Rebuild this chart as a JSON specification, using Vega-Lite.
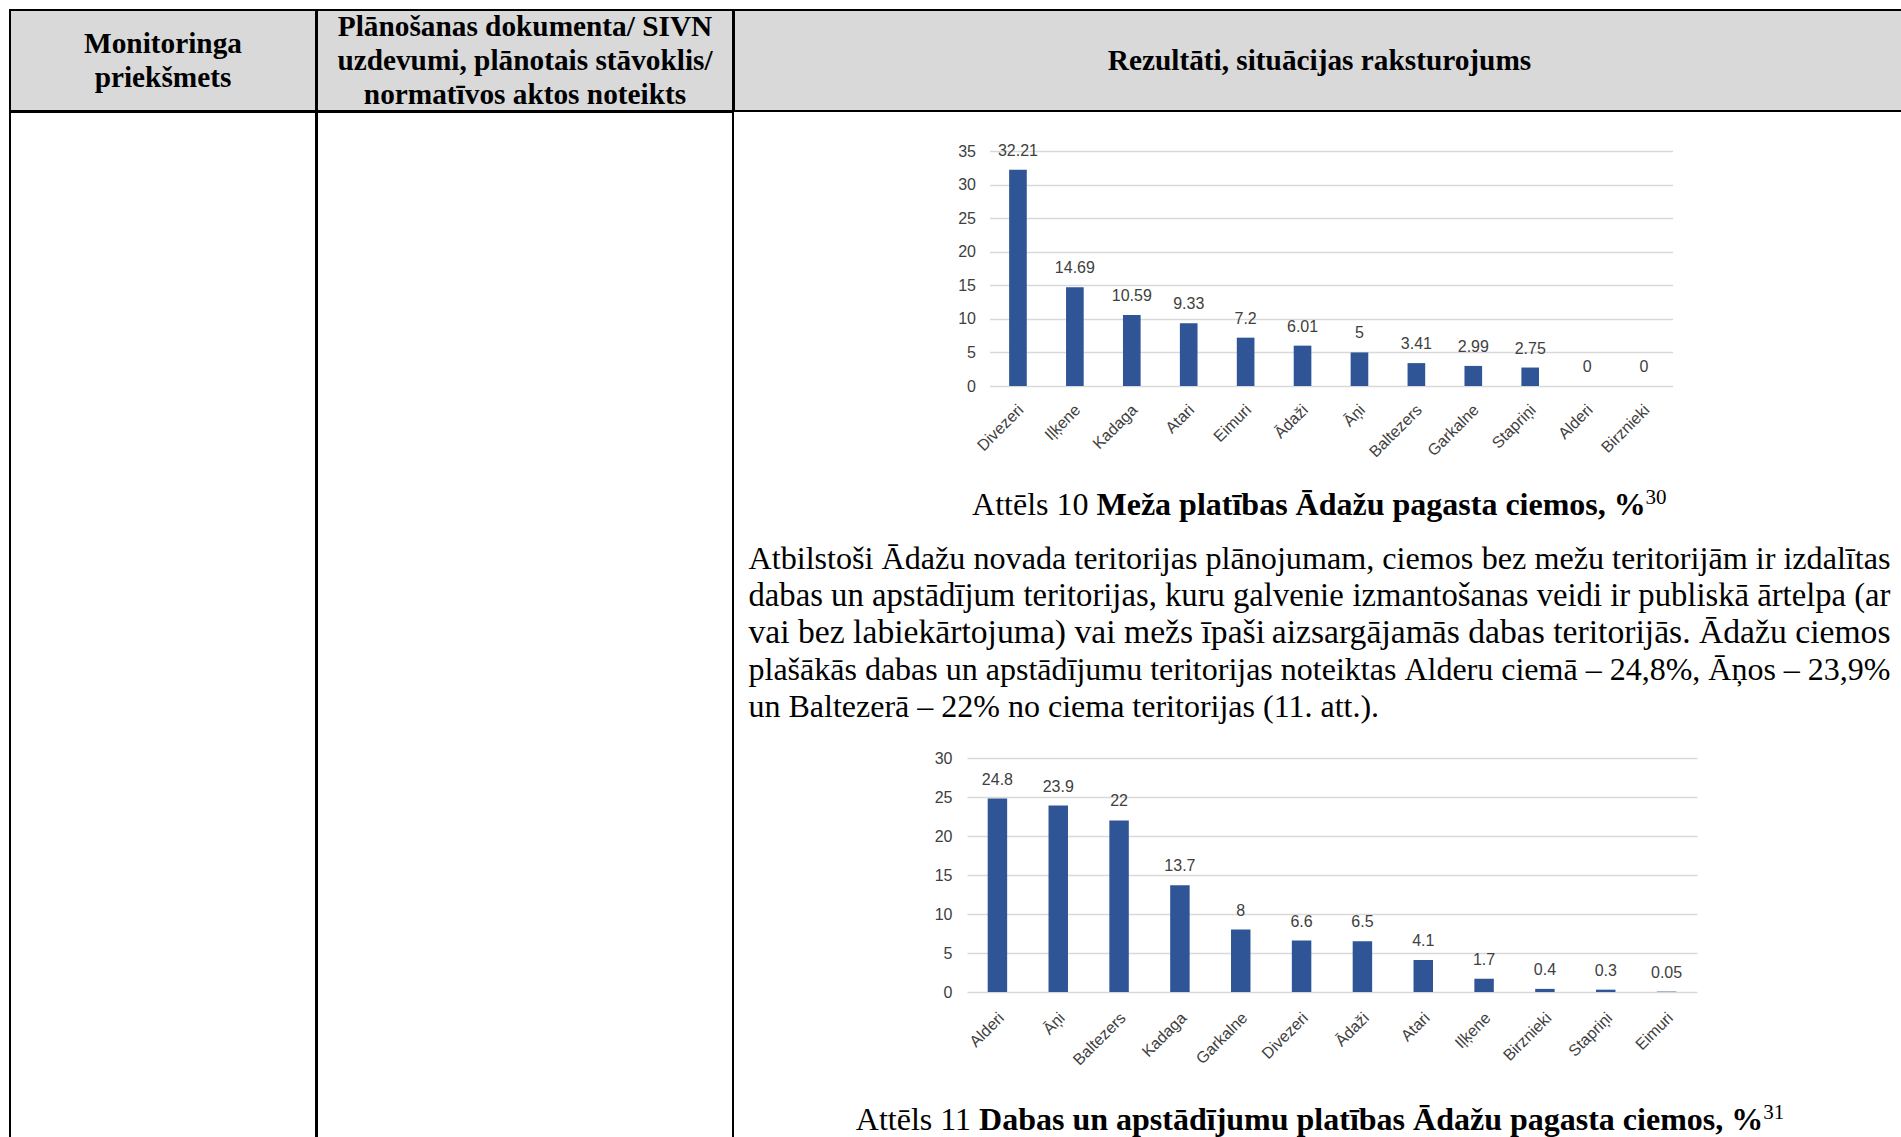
{
  "$schema": "https://vega.github.io/schema/vega-lite/v6.json",
  "padding": {"left": 9, "top": 9, "right": 0, "bottom": 0},
  "background": "white",
  "config": {"view": {"stroke": null}},
  "spacing": -2,
  "hconcat": [
    {
      "spacing": -2,
      "vconcat": [
        {
          "width": 306, "height": 101,
          "view": {"fill": "#d9d9d9", "stroke": "black", "strokeWidth": 2},
          "data": {"values": [{"h": "Monitoringa\npriekšmets"}]},
          "mark": {"type": "text", "font": "Liberation Serif", "fontSize": 29.3, "fontWeight": "bold", "lineBreak": "\n", "lineHeight": 34, "color": "black", "align": "center", "baseline": "middle", "dy": -17},
          "encoding": {"text": {"field": "h"}}
        },
        {
          "width": 306, "height": 1029,
          "view": {"stroke": "black", "strokeWidth": 2},
          "data": {"values": [{"t": ""}]},
          "mark": {"type": "text"},
          "encoding": {"text": {"field": "t"}}
        }
      ]
    },
    {
      "spacing": -2,
      "vconcat": [
        {
          "width": 416, "height": 101,
          "view": {"fill": "#d9d9d9", "stroke": "black", "strokeWidth": 2},
          "data": {"values": [{"h": "Plānošanas dokumenta/ SIVN\nuzdevumi, plānotais stāvoklis/\nnormatīvos aktos noteikts"}]},
          "mark": {"type": "text", "font": "Liberation Serif", "fontSize": 29.3, "fontWeight": "bold", "lineBreak": "\n", "lineHeight": 34, "color": "black", "align": "center", "baseline": "middle", "dy": -34},
          "encoding": {"text": {"field": "h"}}
        },
        {
          "width": 416, "height": 1029,
          "view": {"stroke": "black", "strokeWidth": 2},
          "data": {"values": [{"t": ""}]},
          "mark": {"type": "text"},
          "encoding": {"text": {"field": "t"}}
        }
      ]
    },
    {
      "spacing": 0,
      "bounds": "flush",
      "center": true,
      "vconcat": [
        {
          "width": 1171, "height": 101,
          "view": {"fill": "#d9d9d9", "stroke": "black", "strokeWidth": 2},
          "data": {"values": [{"h": "Rezultāti, situācijas raksturojums"}]},
          "mark": {"type": "text", "font": "Liberation Serif", "fontSize": 29.3, "fontWeight": "bold", "color": "black", "align": "center", "baseline": "middle"},
          "encoding": {"text": {"field": "h"}}
        },
        {
          "width": 1, "height": 40,
          "data": {"values": [{"t": ""}]},
          "mark": {"type": "text"},
          "encoding": {"text": {"field": "t"}}
        },
        {
          "width": 1171, "height": 235,
          "data": {"values": [
            {"ciems": "Divezeri", "procenti": 32.21},
            {"ciems": "Iļķene", "procenti": 14.69},
            {"ciems": "Kadaga", "procenti": 10.59},
            {"ciems": "Atari", "procenti": 9.33},
            {"ciems": "Eimuri", "procenti": 7.2},
            {"ciems": "Ādaži", "procenti": 6.01},
            {"ciems": "Āņi", "procenti": 5},
            {"ciems": "Baltezers", "procenti": 3.41},
            {"ciems": "Garkalne", "procenti": 2.99},
            {"ciems": "Stapriņi", "procenti": 2.75},
            {"ciems": "Alderi", "procenti": 0},
            {"ciems": "Birznieki", "procenti": 0}
          ]},
          "encoding": {
            "x": {
              "field": "ciems", "type": "nominal", "sort": null,
              "scale": {"range": [255.5, 938.5], "paddingInner": 0.69, "paddingOuter": 0.345},
              "axis": {"title": null, "labelAngle": -45, "labelAlign": "right", "labelBaseline": "middle", "labelPadding": 21, "labelOffset": 3, "labelFont": "Liberation Sans", "labelFontSize": 16, "labelColor": "#404040", "ticks": false, "tickSize": 0, "domain": false, "labelOverlap": false, "labelBound": false, "grid": false}
            },
            "y": {
              "field": "procenti", "type": "quantitative",
              "scale": {"domain": [0, 35], "nice": false},
              "axis": {"title": null, "offset": -255.5, "values": [0, 5, 10, 15, 20, 25, 30, 35], "grid": true, "gridColor": "#d9d9d9", "gridWidth": 1.5, "domain": false, "ticks": false, "tickSize": 0, "labelPadding": 14, "labelFont": "Liberation Sans", "labelFontSize": 16, "labelColor": "#404040", "labelFlush": false}
            }
          },
          "layer": [
            {"mark": {"type": "bar", "color": "#2f5597"}},
            {
              "mark": {"type": "text", "font": "Liberation Sans", "fontSize": 16, "color": "#404040", "baseline": "middle", "align": "center", "dy": -19},
              "encoding": {"text": {"field": "procenti", "type": "quantitative", "format": "~g"}}
            }
          ]
        },
        {
          "width": 1, "height": 118,
          "data": {"values": [{"t": ""}]},
          "mark": {"type": "text"},
          "encoding": {"text": {"field": "t"}}
        },
        {
          "width": 1142, "height": 2,
          "layer": [
            {
              "data": {"values": [{"text": "Attēls 10"}]},
              "mark": {"type": "text", "font": "Liberation Serif", "fontSize": 32, "color": "black", "align": "right", "baseline": "middle", "dx": -231},
              "encoding": {"text": {"field": "text"}}
            },
            {
              "data": {"values": [{"text": "Meža platības Ādažu pagasta ciemos, %"}]},
              "mark": {"type": "text", "font": "Liberation Serif", "fontSize": 32, "fontWeight": "bold", "color": "black", "align": "left", "baseline": "middle", "dx": -223},
              "encoding": {"text": {"field": "text"}}
            },
            {
              "data": {"values": [{"text": "30"}]},
              "mark": {"type": "text", "font": "Liberation Serif", "fontSize": 21, "color": "black", "align": "left", "baseline": "middle", "dx": 326, "dy": -7},
              "encoding": {"text": {"field": "text"}}
            }
          ]
        },
        {
          "width": 1, "height": 53,
          "data": {"values": [{"t": ""}]},
          "mark": {"type": "text"},
          "encoding": {"text": {"field": "t"}}
        },
        {
          "width": 1142, "height": 148,
          "encoding": {"y": {"field": "line", "type": "ordinal", "scale": {"type": "point", "padding": 0}, "axis": null}},
          "layer": [
            {
              "data": {"values": [{"line": 1, "text": "Atbilstoši Ādažu novada teritorijas plānojumam, ciemos"}]},
              "mark": {"type": "text", "font": "Liberation Serif", "fontSize": 32.15, "color": "black", "align": "left", "baseline": "middle"},
              "encoding": {"x": {"value": 0}, "text": {"field": "text"}}
            },
            {
              "data": {"values": [{"line": 1, "text": "bez mežu teritorijām ir izdalītas"}]},
              "mark": {"type": "text", "font": "Liberation Serif", "fontSize": 32.15, "color": "black", "align": "right", "baseline": "middle"},
              "encoding": {"x": {"value": "width"}, "text": {"field": "text"}}
            },
            {
              "data": {"values": [
                {"line": 4, "text": "plašākās dabas un apstādījumu teritorijas noteiktas"},
                {"line": 5, "text": "un Baltezerā – 22% no ciema teritorijas (11. att.)."}
              ]},
              "mark": {"type": "text", "font": "Liberation Serif", "fontSize": 32, "color": "black", "align": "left", "baseline": "middle"},
              "encoding": {"x": {"value": 0}, "text": {"field": "text"}}
            },
            {
              "data": {"values": [{"line": 4, "text": "Alderu ciemā – 24,8%, Āņos – 23,9%"}]},
              "mark": {"type": "text", "font": "Liberation Serif", "fontSize": 32, "color": "black", "align": "right", "baseline": "middle"},
              "encoding": {"x": {"value": "width"}, "text": {"field": "text"}}
            },
            {
              "data": {"values": [{"line": 2, "text": "dabas un apstādījum teritorijas, kuru galvenie"}]},
              "mark": {"type": "text", "font": "Liberation Serif", "fontSize": 32.69, "color": "black", "align": "left", "baseline": "middle"},
              "encoding": {"x": {"value": 0}, "text": {"field": "text"}}
            },
            {
              "data": {"values": [{"line": 2, "text": "izmantošanas veidi ir publiskā ārtelpa (ar"}]},
              "mark": {"type": "text", "font": "Liberation Serif", "fontSize": 32.69, "color": "black", "align": "right", "baseline": "middle"},
              "encoding": {"x": {"value": "width"}, "text": {"field": "text"}}
            },
            {
              "data": {"values": [{"line": 3, "text": "vai bez labiekārtojuma) vai mežs īpaši"}]},
              "mark": {"type": "text", "font": "Liberation Serif", "fontSize": 33.65, "color": "black", "align": "left", "baseline": "middle"},
              "encoding": {"x": {"value": 0}, "text": {"field": "text"}}
            },
            {
              "data": {"values": [{"line": 3, "text": "aizsargājamās dabas teritorijās. Ādažu ciemos"}]},
              "mark": {"type": "text", "font": "Liberation Serif", "fontSize": 33.65, "color": "black", "align": "right", "baseline": "middle"},
              "encoding": {"x": {"value": "width"}, "text": {"field": "text"}}
            }
          ]
        },
        {
          "width": 1, "height": 51,
          "data": {"values": [{"t": ""}]},
          "mark": {"type": "text"},
          "encoding": {"text": {"field": "t"}}
        },
        {
          "width": 1171, "height": 234,
          "data": {"values": [
            {"ciems": "Alderi", "procenti": 24.8},
            {"ciems": "Āņi", "procenti": 23.9},
            {"ciems": "Baltezers", "procenti": 22},
            {"ciems": "Kadaga", "procenti": 13.7},
            {"ciems": "Garkalne", "procenti": 8},
            {"ciems": "Divezeri", "procenti": 6.6},
            {"ciems": "Ādaži", "procenti": 6.5},
            {"ciems": "Atari", "procenti": 4.1},
            {"ciems": "Iļķene", "procenti": 1.7},
            {"ciems": "Birznieki", "procenti": 0.4},
            {"ciems": "Stapriņi", "procenti": 0.3},
            {"ciems": "Eimuri", "procenti": 0.05}
          ]},
          "encoding": {
            "x": {
              "field": "ciems", "type": "nominal", "sort": null,
              "scale": {"range": [233, 963], "paddingInner": 0.68, "paddingOuter": 0.34},
              "axis": {"title": null, "labelAngle": -45, "labelAlign": "right", "labelBaseline": "middle", "labelPadding": 23, "labelOffset": 4, "labelFont": "Liberation Sans", "labelFontSize": 16, "labelColor": "#404040", "ticks": false, "tickSize": 0, "domain": false, "labelOverlap": false, "labelBound": false, "grid": false}
            },
            "y": {
              "field": "procenti", "type": "quantitative",
              "scale": {"domain": [0, 30], "nice": false},
              "axis": {"title": null, "offset": -233, "values": [0, 5, 10, 15, 20, 25, 30], "grid": true, "gridColor": "#d9d9d9", "gridWidth": 1.5, "domain": false, "ticks": false, "tickSize": 0, "labelPadding": 15, "labelFont": "Liberation Sans", "labelFontSize": 16, "labelColor": "#404040", "labelFlush": false}
            }
          },
          "layer": [
            {"mark": {"type": "bar", "color": "#2f5597"}},
            {
              "mark": {"type": "text", "font": "Liberation Sans", "fontSize": 16, "color": "#404040", "baseline": "middle", "align": "center", "dy": -19},
              "encoding": {"text": {"field": "procenti", "type": "quantitative", "format": "~g"}}
            }
          ]
        },
        {
          "width": 1, "height": 127,
          "data": {"values": [{"t": ""}]},
          "mark": {"type": "text"},
          "encoding": {"text": {"field": "t"}}
        },
        {
          "width": 1142, "height": 2,
          "layer": [
            {
              "data": {"values": [{"text": "Attēls 11"}]},
              "mark": {"type": "text", "font": "Liberation Serif", "fontSize": 32, "color": "black", "align": "right", "baseline": "middle", "dx": -348.4},
              "encoding": {"text": {"field": "text"}}
            },
            {
              "data": {"values": [{"text": "Dabas un apstādījumu platības Ādažu pagasta ciemos, %"}]},
              "mark": {"type": "text", "font": "Liberation Serif", "fontSize": 32, "fontWeight": "bold", "color": "black", "align": "left", "baseline": "middle", "dx": -340.4},
              "encoding": {"text": {"field": "text"}}
            },
            {
              "data": {"values": [{"text": "31"}]},
              "mark": {"type": "text", "font": "Liberation Serif", "fontSize": 21, "color": "black", "align": "left", "baseline": "middle", "dx": 443.7, "dy": -7},
              "encoding": {"text": {"field": "text"}}
            }
          ]
        }
      ]
    }
  ]
}
